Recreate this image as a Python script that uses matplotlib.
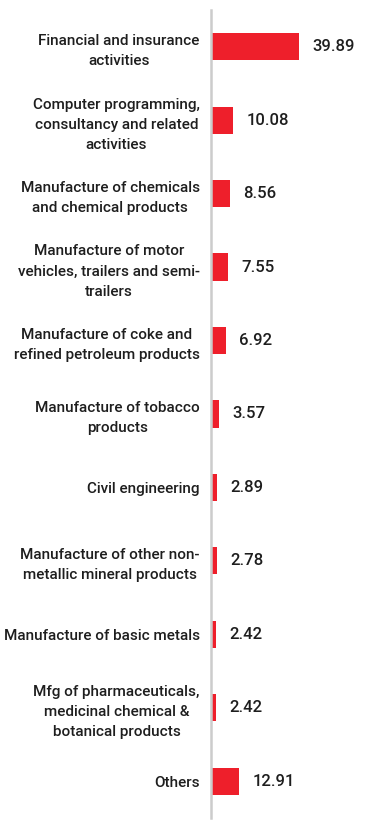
import matplotlib.pyplot as plt

# --- Data ---
categories = [
    "Financial and insurance\nactivities",
    "Computer programming,\nconsultancy and related\nactivities",
    "Manufacture of chemicals\nand chemical products",
    "Manufacture of motor\nvehicles, trailers and semi-\ntrailers",
    "Manufacture of coke and\nrefined petroleum products",
    "Manufacture of tobacco\nproducts",
    "Civil engineering",
    "Manufacture of other non-\nmetallic mineral products",
    "Manufacture of basic metals",
    "Mfg of pharmaceuticals,\nmedicinal chemical &\nbotanical products",
    "Others",
]
values = [39.89, 10.08, 8.56, 7.55, 6.92, 3.57, 2.89, 2.78, 2.42, 2.42, 12.91]

plt.rcParams['font.family'] = ['Roboto', 'DejaVu Sans']

fig = plt.figure(figsize=(3.74, 8.27), dpi=100)
ax = fig.add_axes([0.564, 0.011, 0.436, 0.977])

pos = list(range(len(values)))
ax.barh(pos, values, height=0.37, color='#ee1f2b')
ax.set_ylim(len(values) - 0.5, -0.5)
ax.set_xlim(0, 73.8)

for p, v in zip(pos, values):
    ax.text(v + 6.0, p, f"{v:.2f}", va='center', ha='left', fontsize=12,
            fontweight='medium', color='#1e1e1e')

ax.set_yticks(pos)
ax.set_yticklabels(categories, fontsize=11, fontweight='medium', color='#1e1e1e',
                   linespacing=1.55)
for lbl in ax.get_yticklabels():
    lbl.set_multialignment('center')
ax.tick_params(axis='y', length=0, pad=8)
ax.set_xticks([])

for s in ['top', 'right', 'bottom']:
    ax.spines[s].set_visible(False)
ax.spines['left'].set_color('#cccccc')
ax.spines['left'].set_linewidth(1.8)

fig.savefig("out.png", dpi=100)
